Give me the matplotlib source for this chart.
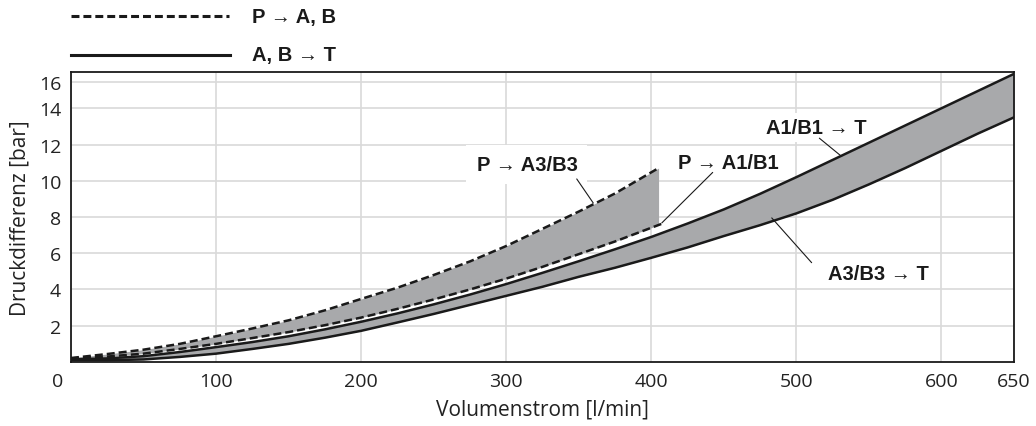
import numpy as np
import matplotlib
matplotlib.use('Agg')
import matplotlib.pyplot as plt
import matplotlib.transforms as mtransforms
from matplotlib.lines import Line2D

plt.rcParams['font.family'] = ['Open Sans', 'DejaVu Sans']
bold_family = ['Liberation Sans', 'DejaVu Sans']

# Volumenstrom [l/min] -> Druckdifferenz [bar]
q_pa3 = [0, 25, 50, 75, 100, 125, 150, 175, 200, 225, 250, 275, 300, 325, 350, 375, 405]
p_a3b3 = [0.22, 0.44, 0.68, 1.0, 1.42, 1.85, 2.3, 2.85, 3.48, 4.1, 4.8, 5.55, 6.4, 7.35, 8.3, 9.3, 10.7]

q_pa1 = [0, 25, 50, 75, 100, 125, 150, 175, 200, 225, 250, 275, 300, 325, 350, 375, 408]
p_a1b1 = [0.2, 0.3, 0.46, 0.72, 1.0, 1.32, 1.65, 2.03, 2.45, 2.93, 3.45, 4.0, 4.6, 5.25, 5.95, 6.65, 7.65]

q_t = [0, 25, 50, 75, 100, 125, 150, 175, 200, 225, 250, 275, 300, 325,
       350, 375, 400, 425, 450, 475, 500, 525, 550, 575, 600, 625, 650]
a1b1_t = [0.15, 0.2, 0.32, 0.55, 0.82, 1.1, 1.42, 1.8, 2.22, 2.68, 3.18, 3.72, 4.3, 4.92,
          5.56, 6.22, 6.9, 7.64, 8.42, 9.28, 10.2, 11.15, 12.1, 13.05, 14.0, 14.95, 15.9]
a3b3_t = [0.1, 0.1, 0.14, 0.28, 0.46, 0.72, 1.0, 1.34, 1.72, 2.18, 2.65, 3.15, 3.65, 4.15,
          4.7, 5.2, 5.75, 6.32, 6.95, 7.55, 8.2, 8.95, 9.8, 10.7, 11.65, 12.6, 13.5]

x_ticks = [0, 100, 200, 300, 400, 500, 600, 650]
y_ticks = [2, 4, 6, 8, 10, 12, 14, 15.45]
y_ticklabels = ['2', '4', '6', '8', '10', '12', '14', '16']

gray = '#a8a9ab'
ink = '#1a1a1a'
txt = '#222222'
dash = (3.2, 1.6)

fig = plt.figure(figsize=(10.36, 4.27), dpi=100)
ax = fig.add_axes([0.0685, 0.1499, 0.9103, 0.6791])

# grey bands
ax.fill_between(q_pa3, p_a3b3, np.interp(q_pa3, q_pa1, p_a1b1), color=gray, lw=0, zorder=2)
ax.fill_between(q_t, a1b1_t, a3b3_t, color=gray, lw=0, zorder=2)

ax.plot(q_pa3, p_a3b3, color=ink, lw=1.8, dashes=dash, zorder=3)
ax.plot(q_pa1, p_a1b1, color=ink, lw=1.8, dashes=dash, zorder=3)
ax.plot(q_t, a1b1_t, color=ink, lw=1.8, zorder=3)
ax.plot(q_t, a3b3_t, color=ink, lw=1.8, zorder=3)

ax.set_xlim(0, 650)
ax.set_ylim(0, 16)
ax.set_xticks(x_ticks)
ax.set_yticks(y_ticks)
ax.set_yticklabels(y_ticklabels)
ax.grid(True, color='#d9d9d9', lw=1.2, zorder=0)
ax.set_axisbelow(True)
ax.tick_params(length=0, labelsize=14, colors=txt, pad=7)
ax.tick_params(axis='x', pad=7)
for s in ax.spines.values():
    s.set_linewidth(1.3)
    s.set_color(ink)

# the "0" sits a bit left of the axis in the original
lab0 = ax.xaxis.get_major_ticks()[0].label1
lab0.set_transform(lab0.get_transform() + mtransforms.ScaledTranslation(-0.13, 0, fig.dpi_scale_trans))

ax.set_xlabel('Volumenstrom [l/min]', fontsize=15, color=txt, labelpad=6)
ax.set_ylabel('Druckdifferenz [bar]', fontsize=15, color=txt, labelpad=6)

# labels with leader lines (white boxes sit under the curves, over the grid)
lbl = dict(fontsize=14.5, fontweight='bold', family=bold_family, ha='center', va='center', color=ink, zorder=2.5)
ax.text(314.3, 10.88, 'P → A3/B3', bbox=dict(boxstyle='square,pad=0.5', fc='white', ec='none'), **lbl)
ax.text(453.2, 11.02, 'P → A1/B1', bbox=dict(boxstyle='square,pad=0.1', fc='white', ec='none'), **lbl)
ax.text(513.9, 12.94, 'A1/B1 → T', bbox=dict(boxstyle='square,pad=0.25', fc='white', ec='none'), **lbl)
ax.text(556.2, 4.89, 'A3/B3 → T', bbox=dict(boxstyle='square,pad=0.2', fc='white', ec='none'), **lbl)

lead = dict(arrowstyle='-', lw=0.8, color=ink, shrinkA=0, shrinkB=0)
ax.annotate('', xy=(360, 8.77), xytext=(348.6, 10.1), arrowprops=lead, zorder=4)
ax.annotate('', xy=(407.2, 7.67), xytext=(442.3, 10.46), arrowprops=lead, zorder=4)
ax.annotate('', xy=(531.2, 11.34), xytext=(515.8, 12.35), arrowprops=lead, zorder=4)
ax.annotate('', xy=(483, 7.95), xytext=(510.5, 5.48), arrowprops=lead, zorder=4)

# legend above the plot
fig.add_artist(Line2D([71 / 1036, 229 / 1036], [1 - 17 / 427, 1 - 17 / 427], color=ink, lw=2.2, dashes=(2.6, 1.3)))
fig.add_artist(Line2D([71 / 1036, 230 / 1036], [1 - 56 / 427, 1 - 56 / 427], color=ink, lw=2.2))
fig.text(252 / 1036, 1 - 17 / 427, 'P → A, B', fontsize=14.5, fontweight='bold', family=bold_family,
         va='center', color=ink)
fig.text(252 / 1036, 1 - 56 / 427, 'A, B → T', fontsize=14.5, fontweight='bold', family=bold_family,
         va='center', color=ink)

fig.savefig('out.png', dpi=100)
